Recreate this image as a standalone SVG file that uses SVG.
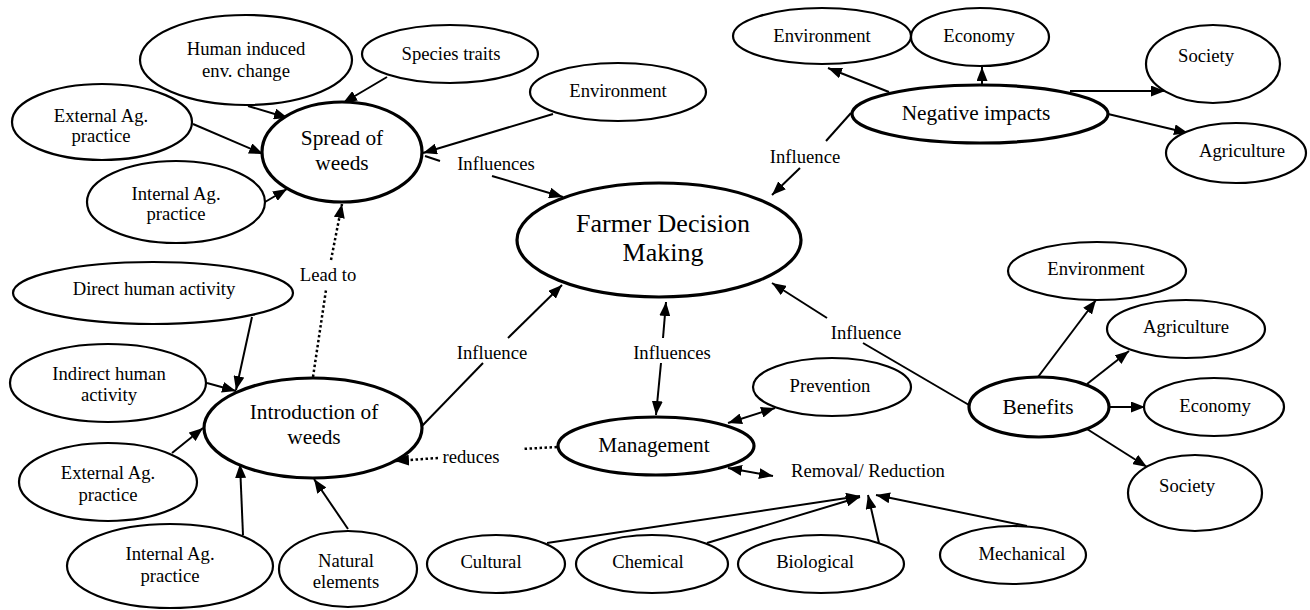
<svg xmlns="http://www.w3.org/2000/svg" width="1310" height="610" viewBox="0 0 1310 610">
<defs>
<style>
.n ellipse{fill:#fff;stroke:#000;stroke-width:2.2}
.n.k ellipse{stroke-width:3.2}
text{fill:#000;text-anchor:middle;dominant-baseline:central}
.s{font-size:18.67px}
.m{font-size:21.33px}
.b{font-size:26px}
.c line{stroke:#000;stroke-width:2;fill:none}
.c .a{marker-end:url(#ah)}
.c .d{marker-start:url(#ah);marker-end:url(#ah)}
.c .dot{stroke-dasharray:2.5 2.5;stroke-width:2.5}
</style>
<marker id="ah" viewBox="0 0 14 11" refX="14" refY="5.5" markerWidth="14" markerHeight="11" orient="auto-start-reverse" markerUnits="userSpaceOnUse"><path d="M0,0 L14,5.5 L0,11 z" fill="#000"/></marker>
</defs>
<rect width="1310" height="610" fill="#fff"/>
<g font-family="'Liberation Serif', 'DejaVu Serif', 'Times New Roman', serif">
<g id="connectors" class="c">
<line class="a" x1="248" y1="106" x2="288" y2="118"/>
<line class="a" x1="387" y1="77" x2="343" y2="103"/>
<line class="a" x1="193" y1="124" x2="263" y2="154"/>
<line class="a" x1="265" y1="202" x2="287" y2="189"/>
<line class="a" x1="553" y1="114" x2="423" y2="153"/>
<line class="dot" x1="313" y1="377" x2="326" y2="290"/>
<line class="dot a" x1="331" y1="260" x2="342" y2="204"/>
<line x1="425" y1="156" x2="440" y2="161"/>
<line class="a" x1="492" y1="176" x2="563" y2="197"/>
<line x1="851" y1="113" x2="826" y2="141"/>
<line class="a" x1="800" y1="168" x2="772" y2="195"/>
<line x1="422" y1="426" x2="483" y2="363"/>
<line class="a" x1="508" y1="338" x2="562" y2="285"/>
<line class="a" x1="663" y1="338" x2="666" y2="302"/>
<line class="a" x1="661" y1="363" x2="656" y2="415"/>
<line x1="969" y1="405" x2="863" y2="343"/>
<line class="a" x1="827" y1="318" x2="772" y2="283"/>
<line class="a" x1="889" y1="92" x2="828" y2="68"/>
<line class="a" x1="982" y1="85" x2="982" y2="67"/>
<line class="a" x1="1070" y1="91" x2="1165" y2="91"/>
<line class="a" x1="1108" y1="114" x2="1188" y2="133"/>
<line class="a" x1="1038" y1="377" x2="1096" y2="300"/>
<line class="a" x1="1087" y1="384" x2="1129" y2="351"/>
<line class="a" x1="1109" y1="407" x2="1145" y2="407"/>
<line class="a" x1="1087" y1="429" x2="1147" y2="467"/>
<line class="a" x1="252" y1="317" x2="236" y2="390"/>
<line class="a" x1="207" y1="383" x2="236" y2="391"/>
<line class="a" x1="172" y1="453" x2="203" y2="428"/>
<line class="a" x1="243" y1="535" x2="240" y2="464"/>
<line class="a" x1="348" y1="529" x2="314" y2="479"/>
<line class="dot" x1="557" y1="447" x2="522" y2="449"/>
<line class="dot a" x1="438" y1="458" x2="395" y2="461"/>
<line class="d" x1="728" y1="423" x2="775" y2="408"/>
<line class="d" x1="728" y1="468" x2="773" y2="476"/>
<line class="a" x1="547" y1="543" x2="860" y2="496"/>
<line class="a" x1="707" y1="543" x2="860" y2="497"/>
<line class="a" x1="879" y1="543" x2="868" y2="495"/>
<line class="a" x1="1027" y1="526" x2="876" y2="495"/>
</g>
<g id="n-human-induced" class="n"><ellipse cx="246" cy="60" rx="106" ry="45"/><text class="s" x="246" y="48">Human induced</text><text class="s" x="246" y="70">env. change</text></g>
<g id="n-species" class="n"><ellipse cx="450" cy="54" rx="88" ry="29"/><text class="s" x="451" y="53">Species traits</text></g>
<g id="n-env-top" class="n"><ellipse cx="618" cy="92" rx="88" ry="29"/><text class="s" x="618" y="90">Environment</text></g>
<g id="n-ext-top" class="n"><ellipse cx="102" cy="122" rx="90" ry="38"/><text class="s" x="101" y="115">External Ag.</text><text class="s" x="101" y="135">practice</text></g>
<g id="n-spread" class="n k"><ellipse cx="342" cy="152" rx="80" ry="50"/><text class="m" x="342" y="138">Spread of</text><text class="m" x="342" y="163">weeds</text></g>
<g id="n-int-top" class="n"><ellipse cx="176" cy="202" rx="89" ry="41"/><text class="s" x="176" y="193">Internal Ag.</text><text class="s" x="176" y="213">practice</text></g>
<g id="n-farmer" class="n k"><ellipse cx="659" cy="240" rx="142" ry="57"/><text class="b" x="663" y="223">Farmer Decision</text><text class="b" x="663" y="252">Making</text></g>
<g id="n-env-tr" class="n"><ellipse cx="822" cy="36" rx="89" ry="28"/><text class="s" x="822" y="35">Environment</text></g>
<g id="n-eco-tr" class="n"><ellipse cx="980" cy="37" rx="69" ry="29"/><text class="s" x="979" y="35">Economy</text></g>
<g id="n-negative" class="n k"><ellipse cx="980" cy="114" rx="128" ry="29"/><text class="m" x="976" y="113">Negative impacts</text></g>
<g id="n-soc-tr" class="n"><ellipse cx="1213" cy="64" rx="67" ry="39"/><text class="s" x="1206" y="55">Society</text></g>
<g id="n-agr-tr" class="n"><ellipse cx="1236" cy="153" rx="70" ry="30"/><text class="s" x="1242" y="150">Agriculture</text></g>
<g id="n-direct" class="n"><ellipse cx="153" cy="293" rx="140" ry="31"/><text class="s" x="154" y="288">Direct human activity</text></g>
<g id="n-indirect" class="n"><ellipse cx="108" cy="383" rx="98" ry="39"/><text class="s" x="109" y="373">Indirect human</text><text class="s" x="109" y="394">activity</text></g>
<g id="n-intro" class="n k"><ellipse cx="313" cy="428" rx="109" ry="50"/><text class="m" x="314" y="412">Introduction of</text><text class="m" x="314" y="437">weeds</text></g>
<g id="n-ext-bot" class="n"><ellipse cx="108" cy="482" rx="89" ry="39"/><text class="s" x="108" y="472">External Ag.</text><text class="s" x="108" y="494">practice</text></g>
<g id="n-int-bot" class="n"><ellipse cx="170" cy="566" rx="103" ry="42"/><text class="s" x="170" y="553">Internal Ag.</text><text class="s" x="170" y="575">practice</text></g>
<g id="n-natural" class="n"><ellipse cx="348" cy="569" rx="69" ry="38"/><text class="s" x="346" y="560">Natural</text><text class="s" x="346" y="581">elements</text></g>
<g id="n-management" class="n k"><ellipse cx="656" cy="446" rx="98" ry="29"/><text class="m" x="654" y="445">Management</text></g>
<g id="n-prevention" class="n"><ellipse cx="832" cy="387" rx="79" ry="29"/><text class="s" x="830" y="385">Prevention</text></g>
<g id="n-removal"><text class="s" x="868" y="470">Removal/ Reduction</text></g>
<g id="n-cultural" class="n"><ellipse cx="496" cy="564" rx="69" ry="29"/><text class="s" x="491" y="561">Cultural</text></g>
<g id="n-chemical" class="n"><ellipse cx="652" cy="564" rx="76" ry="29"/><text class="s" x="648" y="561">Chemical</text></g>
<g id="n-biological" class="n"><ellipse cx="821" cy="564" rx="83" ry="29"/><text class="s" x="815" y="561">Biological</text></g>
<g id="n-mechanical" class="n"><ellipse cx="1013" cy="555" rx="73" ry="29"/><text class="s" x="1022" y="553">Mechanical</text></g>
<g id="n-benefits" class="n k"><ellipse cx="1039" cy="407" rx="70" ry="30"/><text class="m" x="1038" y="407">Benefits</text></g>
<g id="n-env-r" class="n"><ellipse cx="1097" cy="271" rx="89" ry="29"/><text class="s" x="1096" y="268">Environment</text></g>
<g id="n-agr-r" class="n"><ellipse cx="1186" cy="329" rx="79" ry="29"/><text class="s" x="1186" y="326">Agriculture</text></g>
<g id="n-eco-r" class="n"><ellipse cx="1214" cy="407" rx="70" ry="29"/><text class="s" x="1215" y="405">Economy</text></g>
<g id="n-soc-r" class="n"><ellipse cx="1195" cy="493" rx="67" ry="38"/><text class="s" x="1187" y="485">Society</text></g>
<g id="labels">
<text class="s" x="496" y="163">Influences</text>
<text class="s" x="805" y="156">Influence</text>
<text class="s" x="328" y="274">Lead to</text>
<text class="s" x="492" y="352">Influence</text>
<text class="s" x="672" y="352">Influences</text>
<text class="s" x="866" y="332">Influence</text>
<text class="s" x="471" y="456">reduces</text>
</g>
</g>
</svg>
